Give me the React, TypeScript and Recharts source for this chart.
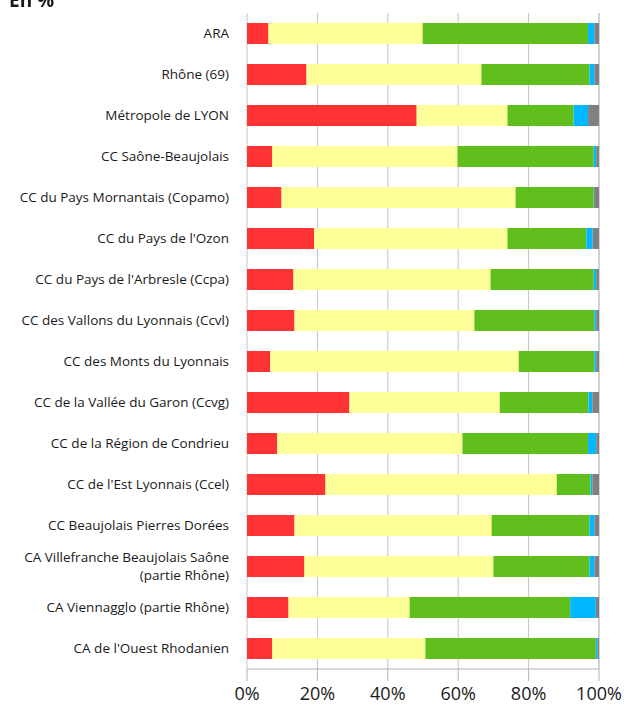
import { BarChart, Bar, XAxis, YAxis, CartesianGrid } from "recharts";

const categories = [
  "ARA",
  "Rhône (69)",
  "Métropole de LYON",
  "CC Saône-Beaujolais",
  "CC du Pays Mornantais (Copamo)",
  "CC du Pays de l'Ozon",
  "CC du Pays de l'Arbresle (Ccpa)",
  "CC des Vallons du Lyonnais (Ccvl)",
  "CC des Monts du Lyonnais",
  "CC de la Vallée du Garon (Ccvg)",
  "CC de la Région de Condrieu",
  "CC de l'Est Lyonnais (Ccel)",
  "CC Beaujolais Pierres Dorées",
  "CA Villefranche Beaujolais Saône\n(partie Rhône)",
  "CA Viennagglo (partie Rhône)",
  "CA de l'Ouest Rhodanien",
];

const rouge = [6.1, 16.9, 48.2, 7.2, 9.8, 19.1, 13.2, 13.5, 6.6, 29.1, 8.6, 22.3, 13.5, 16.3, 11.8, 7.2];
const jaune = [43.8, 49.7, 25.8, 52.6, 66.5, 54.9, 56.0, 51.1, 70.6, 42.7, 52.6, 65.7, 56.0, 53.7, 34.4, 43.5];
const vert = [47.0, 30.7, 18.8, 38.7, 22.2, 22.4, 29.3, 34.1, 21.5, 25.2, 35.7, 9.6, 27.8, 27.3, 45.6, 48.4];
const bleu = [1.8, 1.4, 4.1, 0.7, 0.1, 1.8, 0.7, 0.5, 0.5, 1.1, 2.3, 0.5, 1.4, 1.4, 7.3, 0.5];
const gris = [1.3, 1.3, 3.1, 0.8, 1.4, 1.8, 0.8, 0.8, 0.8, 1.9, 0.8, 1.9, 1.3, 1.3, 0.9, 0.4];

const xTicks = [0, 20, 40, 60, 80, 100];
const boundaryTicks = Array.from({ length: categories.length + 1 }, (_, i) => i);

const data = categories.map((name, i) => ({
  name,
  rouge: rouge[i],
  jaune: jaune[i],
  vert: vert[i],
  bleu: bleu[i],
  gris: gris[i],
}));

const FONT = "'Open Sans', sans-serif";

function CategoryTick({ x, y, payload }: any) {
  const lines = String(payload.value).split("\n");
  const lh = 18.5;
  const y0 = y - ((lines.length - 1) * lh) / 2;
  return (
    <text x={x} y={y0} textAnchor="end" fontSize={13.5} fill="#1a1a1a" fontFamily={FONT}>
      {lines.map((l, i) => (
        <tspan key={i} x={x} y={y0 + i * lh} dy="0.35em">
          {l}
        </tspan>
      ))}
    </text>
  );
}

export default function App() {
  return (
    <div style={{ position: "fixed", left: 0, top: 0, width: 626, height: 711, background: "#fff" }}>
      <BarChart
        width={626}
        height={711}
        data={data}
        layout="vertical"
        margin={{ top: 13, right: 27, bottom: 0, left: 0 }}
        barSize={21}
      >
        <CartesianGrid horizontal={false} stroke="#c4c4c4" />
        <XAxis
          type="number"
          domain={[0, 100]}
          ticks={xTicks}
          tickFormatter={(v) => `${v}%`}
          stroke="#b4b4b4"
          tickSize={12}
          tickMargin={6}
          height={42}
          tick={{ fontSize: 18, fill: "#1a1a1a", fontFamily: FONT }}
        />
        <YAxis
          yAxisId="bounds"
          type="number"
          domain={[0, 16]}
          ticks={boundaryTicks}
          tick={false}
          tickSize={10}
          tickLine={{ stroke: "#b4b4b4" }}
          axisLine={{ stroke: "#b4b4b4" }}
          width={0}
        />
        <YAxis
          type="category"
          dataKey="name"
          width={247}
          axisLine={false}
          tickLine={false}
          tickSize={10}
          tickMargin={8}
          interval={0}
          tick={<CategoryTick />}
        />
        <Bar dataKey="rouge" stackId="a" fill="#ff3333" isAnimationActive={false} />
        <Bar dataKey="jaune" stackId="a" fill="#ffff99" isAnimationActive={false} />
        <Bar dataKey="vert" stackId="a" fill="#60bf1c" isAnimationActive={false} />
        <Bar dataKey="bleu" stackId="a" fill="#00b8ff" isAnimationActive={false} />
        <Bar dataKey="gris" stackId="a" fill="#808080" isAnimationActive={false} />
      </BarChart>
      <div
        style={{
          position: "absolute",
          left: 9,
          top: -13,
          zIndex: 2,
          fontSize: 19,
          lineHeight: "26px",
          fontWeight: 700,
          fontFamily: FONT,
          color: "#1a1a1a",
        }}
      >
        En %
      </div>
    </div>
  );
}
